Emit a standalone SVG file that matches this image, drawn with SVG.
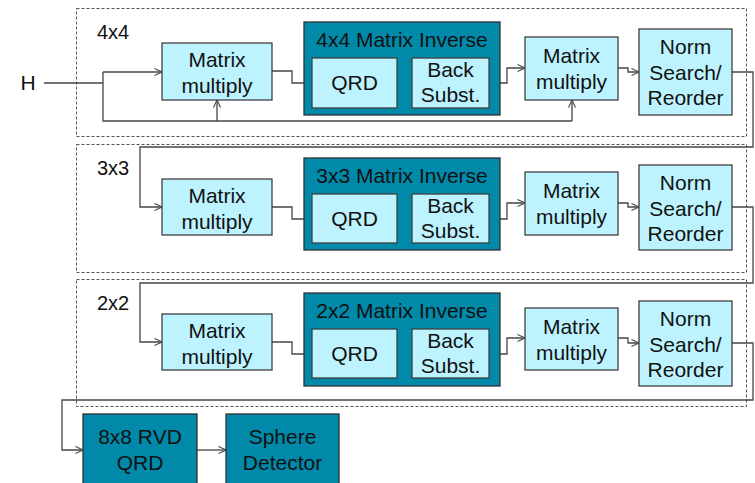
<svg xmlns="http://www.w3.org/2000/svg" width="755" height="483" viewBox="0 0 755 483">
<defs>
<marker id="ah" markerUnits="userSpaceOnUse" markerWidth="10" markerHeight="10" refX="8" refY="4" orient="auto">
<path d="M0.5,0.5 L8,4 L0.5,7.5" fill="none" stroke="#505050" stroke-width="1.2"/>
</marker>
</defs>
<style>
text{font-family:"Liberation Sans",Arial,sans-serif;font-size:21px;fill:#111;text-anchor:middle}
.lbl{text-anchor:start;font-size:20px}
.lt{fill:#bdf3ff;stroke:#404040;stroke-width:1.3}
.dk{fill:#0089a8;stroke:#303030;stroke-width:1.3}
.dash{fill:none;stroke:#555;stroke-width:1;stroke-dasharray:3,2}
.c{fill:none;stroke:#454545;stroke-width:1.3}
.ca{fill:none;stroke:#454545;stroke-width:1.3;marker-end:url(#ah)}
</style>
<g id="groups">
<rect class="dash" x="76.5" y="8.5" width="670" height="128"/>
<rect class="dash" x="76.5" y="144.5" width="670" height="128"/>
<rect class="dash" x="76.5" y="279.5" width="670" height="127"/>
<text class="lbl" x="97" y="39">4x4</text>
<text class="lbl" x="97" y="175">3x3</text>
<text class="lbl" x="97" y="310">2x2</text>
</g>
<text x="28" y="90">H</text>
<g id="connectors">
<path class="c" d="M44,83 H103 M103,72 V121 H572"/>
<path class="ca" d="M103,72 H162"/>
<path class="ca" d="M217,121 V100"/>
<path class="ca" d="M572,121 V100"/>
<path class="ca" d="M272,71 H292 V83 H312"/>
<path class="ca" d="M397,83 H412"/>
<path class="ca" d="M489,83 H507 V68 H525"/>
<path class="ca" d="M618,68 H628 V72 H639"/>
<path class="ca" d="M732,72 H753 V147 H140 V207 H162"/>
<path class="ca" d="M272,207 H292 V219 H312"/>
<path class="ca" d="M397,219 H412"/>
<path class="ca" d="M489,219 H507 V203 H525"/>
<path class="ca" d="M618,203 H628 V207 H639"/>
<path class="ca" d="M732,207 H753 V283 H140 V342 H162"/>
<path class="ca" d="M272,342 H292 V354 H312"/>
<path class="ca" d="M397,354 H412"/>
<path class="ca" d="M489,354 H507 V338 H525"/>
<path class="ca" d="M618,338 H628 V343 H639"/>
<path class="ca" d="M732,343 H753 V400 H62 V450 H83"/>
<path class="ca" d="M197,450 H226"/>
</g>
<g id="mm1_4"><rect class="lt" x="162" y="43" width="110" height="57"/><text x="217" y="67">Matrix</text><text x="217" y="93">multiply</text></g>
<g id="inv_4"><rect class="dk" x="304" y="22" width="196" height="93"/><text x="402" y="47">4x4 Matrix Inverse</text></g>
<g id="qrd_4"><rect class="lt" x="312" y="58" width="85" height="50"/><text x="354.5" y="90">QRD</text></g>
<g id="bs_4"><rect class="lt" x="412" y="58" width="77" height="50"/><text x="450.5" y="77">Back</text><text x="450.5" y="102">Subst.</text></g>
<g id="mm2_4"><rect class="lt" x="525" y="37" width="93" height="63"/><text x="571.5" y="63">Matrix</text><text x="571.5" y="89">multiply</text></g>
<g id="norm_4"><rect class="lt" x="639" y="29" width="93" height="86"/><text x="685.5" y="54">Norm</text><text x="685.5" y="80">Search/</text><text x="685.5" y="105">Reorder</text></g>

<g id="mm1_3"><rect class="lt" x="162" y="179" width="110" height="56"/><text x="217" y="203">Matrix</text><text x="217" y="229">multiply</text></g>
<g id="inv_3"><rect class="dk" x="304" y="158" width="196" height="92"/><text x="402" y="183">3x3 Matrix Inverse</text></g>
<g id="qrd_3"><rect class="lt" x="312" y="194" width="85" height="49"/><text x="354.5" y="226">QRD</text></g>
<g id="bs_3"><rect class="lt" x="412" y="194" width="77" height="49"/><text x="450.5" y="213">Back</text><text x="450.5" y="238">Subst.</text></g>
<g id="mm2_3"><rect class="lt" x="525" y="172" width="93" height="63"/><text x="571.5" y="198">Matrix</text><text x="571.5" y="224">multiply</text></g>
<g id="norm_3"><rect class="lt" x="639" y="165" width="93" height="85"/><text x="685.5" y="190">Norm</text><text x="685.5" y="216">Search/</text><text x="685.5" y="241">Reorder</text></g>

<g id="mm1_2"><rect class="lt" x="162" y="314" width="110" height="56"/><text x="217" y="338">Matrix</text><text x="217" y="364">multiply</text></g>
<g id="inv_2"><rect class="dk" x="304" y="293" width="196" height="93"/><text x="402" y="318">2x2 Matrix Inverse</text></g>
<g id="qrd_2"><rect class="lt" x="312" y="329" width="85" height="49"/><text x="354.5" y="361">QRD</text></g>
<g id="bs_2"><rect class="lt" x="412" y="329" width="77" height="49"/><text x="450.5" y="348">Back</text><text x="450.5" y="373">Subst.</text></g>
<g id="mm2_2"><rect class="lt" x="525" y="308" width="93" height="62"/><text x="571.5" y="334">Matrix</text><text x="571.5" y="360">multiply</text></g>
<g id="norm_2"><rect class="lt" x="639" y="301" width="93" height="85"/><text x="685.5" y="326">Norm</text><text x="685.5" y="352">Search/</text><text x="685.5" y="377">Reorder</text></g>

<g id="rvd"><rect class="dk" x="83" y="414" width="114" height="75"/><text x="140" y="444">8x8 RVD</text><text x="140" y="470">QRD</text></g>
<g id="sphere"><rect class="dk" x="226" y="414" width="113" height="75"/><text x="282.5" y="444">Sphere</text><text x="282.5" y="470">Detector</text></g>
</svg>
